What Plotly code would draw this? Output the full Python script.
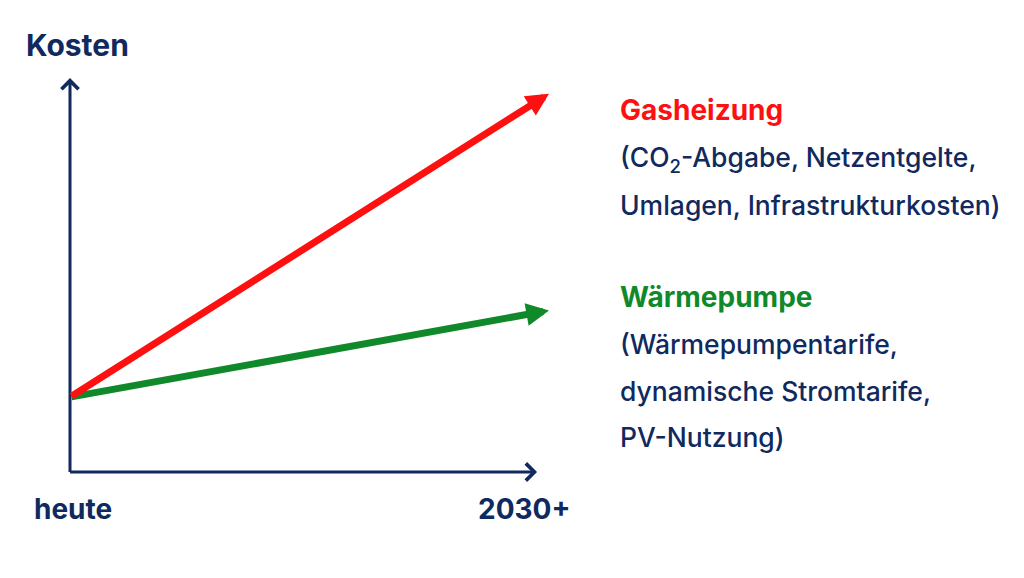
import plotly.graph_objects as go

# ---- data ----
time_pos = [0, 1]
time_labels = ["heute", "2030+"]
gas_costs = [19, 96]
wp_costs = [19, 41]
y_axis_max = 100
x_axis_max = 0.975

y_title = "Kosten"
gas_title = "Gasheizung"
gas_lines = ["(CO<sub>2</sub>-Abgabe, Netzentgelte,", "Umlagen, Infrastrukturkosten)"]
wp_title = "Wärmepumpe"
wp_lines = ["(Wärmepumpentarife,", "dynamische Stromtarife,", "PV-Nutzung)"]

NAVY = "#10295e"
RED = "#ff1010"
GREEN = "#10892a"
FONT = "Inter"

# ---- layout geometry (page pixels; page body has an 8px offset) ----
OFF = 8
W, H = 1024, 578
L, R_PX = 70 - OFF, 549 - OFF      # x=0 and x=1 (figure px)
B_PX, T_PX = 472 - OFF, 78 - OFF   # y=0 and y=100 (figure px)


def xp(px):
    return (px - OFF - L) / (R_PX - L)


def yp(py):
    return (B_PX - (py - OFF)) / (B_PX - T_PX)


fig = go.Figure()
# invisible trace to establish axes
fig.add_trace(go.Scatter(x=time_pos, y=[0, y_axis_max], mode="markers",
                         marker=dict(opacity=0), hoverinfo="skip", showlegend=False))

ann = []
# axes (arrows)
ann.append(dict(x=0, y=y_axis_max, ax=0, ay=-0.4, xref="x", yref="y", axref="x", ayref="y",
                text="", showarrow=True, arrowhead=4, arrowwidth=3, arrowsize=1.1, arrowcolor=NAVY))
ann.append(dict(x=x_axis_max, y=0, ax=-0.003, ay=0, xref="x", yref="y", axref="x", ayref="y",
                text="", showarrow=True, arrowhead=4, arrowwidth=3, arrowsize=1.1, arrowcolor=NAVY))
# series arrows
ann.append(dict(x=time_pos[1], y=wp_costs[1], ax=time_pos[0], ay=wp_costs[0],
                xref="x", yref="y", axref="x", ayref="y", text="", showarrow=True,
                arrowhead=2, arrowwidth=7, arrowsize=0.65, arrowcolor=GREEN))
ann.append(dict(x=time_pos[1], y=gas_costs[1], ax=time_pos[0], ay=gas_costs[0],
                xref="x", yref="y", axref="x", ayref="y", text="", showarrow=True,
                arrowhead=2, arrowwidth=7, arrowsize=0.65, arrowcolor=RED))


def txt(s, px, baseline, size, color, bold=False, xanchor="left", weight=None):
    center = baseline - 0.33 * size
    t = f"<b>{s}</b>" if bold else s
    f = dict(family=FONT, size=size, color=color)
    if weight is not None:
        f["weight"] = weight
    return dict(text=t, x=xp(px), y=yp(center), xref="paper", yref="paper",
                xanchor=xanchor, yanchor="middle", showarrow=False, font=f)


ann.append(txt(y_title, 24, 55, 30, NAVY, bold=True))
ann.append(txt(time_labels[0], 73, 518, 28, NAVY, bold=True, xanchor="center"))
ann.append(txt(time_labels[1], 524, 518, 28, NAVY, bold=True, xanchor="center"))

ann.append(txt(gas_title, 618, 119, 28, RED, bold=True))
for i, s in enumerate(gas_lines):
    ann.append(txt(s, 618, 168 + 46 * i, 26.5, NAVY, weight=500))
ann.append(txt(wp_title, 618, 306, 28, GREEN, bold=True))
for i, s in enumerate(wp_lines):
    ann.append(txt(s, 618, 353 + 46.5 * i, 26.5, NAVY, weight=500))

fig.update_layout(
    width=W, height=H,
    margin=dict(l=L, r=W - R_PX, t=T_PX, b=H - B_PX),
    paper_bgcolor="white", plot_bgcolor="white",
    xaxis=dict(range=[0, 1], visible=False, fixedrange=True),
    yaxis=dict(range=[0, y_axis_max], visible=False, fixedrange=True),
    annotations=ann,
    showlegend=False,
)

fig.write_html("out.html", config={"displayModeBar": False})
